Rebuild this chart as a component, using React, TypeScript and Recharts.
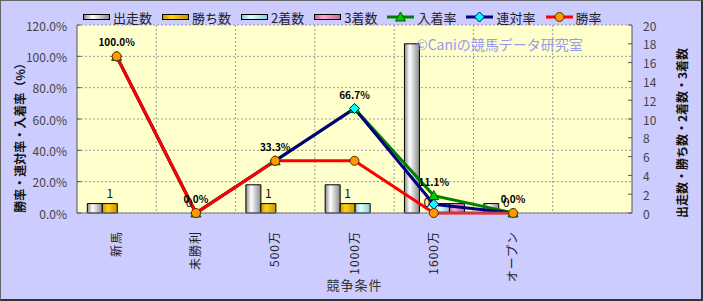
import {
  Bar,
  CartesianGrid,
  ComposedChart,
  LabelList,
  Line,
  Rectangle,
  XAxis,
  YAxis,
} from "recharts";

const categories = ["新馬", "未勝利", "500万", "1000万", "1600万", "オープン", ""];
const starts = [1, 0, 3, 3, 18, 1, null];
const wins = [1, 0, 1, 1, 0, 0, null];
const seconds = [0, 0, 0, 1, 1, 0, null];
const thirds = [0, 0, 0, 0, 1, 0, null];
const winRate = [100, 0, 33.3, 33.3, 0, 0, null];
const rentaiRate = [100, 0, 33.3, 66.7, 5.6, 0, null];
const placeRate = [100, 0, 33.3, 66.7, 11.1, 0, null];
const leftTicks = [0, 20, 40, 60, 80, 100, 120];
const rightTicks = [0, 2, 4, 6, 8, 10, 12, 14, 16, 18, 20];

const data = categories.map((cat, i) => ({
  cat,
  starts: starts[i],
  wins: wins[i],
  seconds: seconds[i],
  thirds: thirds[i],
  winRate: winRate[i],
  rentaiRate: rentaiRate[i],
  placeRate: placeRate[i],
}));

const FONT = '"Noto Sans CJK JP", "Noto Sans", sans-serif';

const LeftTick = (p: any) => (
  <g>
    <line x1={p.x + 10} x2={p.x + 14} y1={p.y} y2={p.y} stroke="#555" />
    <text x={p.x} y={p.y} textAnchor="end" dominantBaseline="central" fontSize={12} fill="#444" fontFamily={FONT}>
      {p.payload.value.toFixed(1)}%
    </text>
  </g>
);

const RightTick = (p: any) => (
  <g>
    <line x1={p.x - 11} x2={p.x - 15} y1={p.y} y2={p.y} stroke="#555" />
    <text x={p.x} y={p.y} textAnchor="start" dominantBaseline="central" fontSize={12} fill="#444" fontFamily={FONT}>
      {p.payload.value}
    </text>
  </g>
);

const CatTick = (p: any) => (
  <text
    transform={`translate(${p.x + 4},${p.y + 10}) rotate(-90)`}
    textAnchor="end"
    fontSize={12}
    letterSpacing={1}
    fill="#222"
    fontFamily={FONT}
  >
    {p.payload.value}
  </text>
);

// zero-height bars keep their slot (for the "0" labels) but draw nothing
const BarShape = (p: any) => (!p.value || p.height < 0.5 ? <g /> : <Rectangle {...p} />);

const TriDot = (p: any) =>
  p.cy == null ? (
    <g key={p.index} />
  ) : (
    <path
      key={p.index}
      d={`M${p.cx},${p.cy - 5}L${p.cx + 5},${p.cy + 4}L${p.cx - 5},${p.cy + 4}Z`}
      fill="#00cc00"
      stroke="#005500"
      strokeWidth={1}
    />
  );

const DiaDot = (p: any) =>
  p.cy == null ? (
    <g key={p.index} />
  ) : (
    <path
      key={p.index}
      d={`M${p.cx},${p.cy - 5}L${p.cx + 5},${p.cy}L${p.cx},${p.cy + 5}L${p.cx - 5},${p.cy}Z`}
      fill="#00ffff"
      stroke="#000080"
      strokeWidth={1}
    />
  );

const CircDot = (p: any) =>
  p.cy == null ? (
    <g key={p.index} />
  ) : (
    <circle key={p.index} cx={p.cx} cy={p.cy} r={4.5} fill="#ff9900" stroke="#553300" strokeWidth={1} />
  );

const legendItems = [
  { name: "出走数", type: "bar", fill: "url(#gStarts)" },
  { name: "勝ち数", type: "bar", fill: "url(#gWins)" },
  { name: "2着数", type: "bar", fill: "url(#gSec)" },
  { name: "3着数", type: "bar", fill: "url(#gThird)" },
  { name: "入着率", type: "tri", stroke: "#008000" },
  { name: "連対率", type: "dia", stroke: "#000080" },
  { name: "勝率", type: "circ", stroke: "#ff0000" },
];

function Grad({ id, edge, mid }: { id: string; edge: string; mid: string }) {
  return (
    <linearGradient id={id} x1="0" y1="0" x2="1" y2="0">
      <stop offset="0%" stopColor={edge} />
      <stop offset="35%" stopColor={mid} />
      <stop offset="100%" stopColor={edge} />
    </linearGradient>
  );
}

const Defs = () => (
  <defs>
    <Grad id="gStarts" edge="#8a8a8a" mid="#ffffff" />
    <Grad id="gWins" edge="#c89600" mid="#ffd21a" />
    <Grad id="gSec" edge="#8ccccc" mid="#e0ffff" />
    <Grad id="gThird" edge="#cc6699" mid="#ffaad4" />
  </defs>
);

function Legend() {
  return (
    <div style={{ position: "absolute", left: 83, top: 8, display: "flex", gap: 10, fontFamily: FONT, fontSize: 13, color: "#222" }}>
      {legendItems.map((it) => (
        <div key={it.name} style={{ display: "flex", alignItems: "center", gap: 3, height: 18 }}>
          <svg width={27} height={12}>
            <Defs />
            {it.type === "bar" ? (
              <rect x={0.5} y={3.5} width={26} height={5} fill={it.fill} stroke="#000" />
            ) : (
              <>
                <line x1={0} x2={27} y1={6} y2={6} stroke={it.stroke} strokeWidth={3} />
                {it.type === "tri" && <TriDot cx={13.5} cy={6} index={0} />}
                {it.type === "dia" && <DiaDot cx={13.5} cy={6} index={0} />}
                {it.type === "circ" && <CircDot cx={13.5} cy={6} index={0} />}
              </>
            )}
          </svg>
          <span>{it.name}</span>
        </div>
      ))}
    </div>
  );
}

export default function App() {
  return (
    <div style={{ position: "fixed", left: 0, top: 0, width: 703, height: 301, background: "#ccccff", fontFamily: FONT }}>
      <ComposedChart
        width={703}
        height={301}
        data={data}
        margin={{ top: 25, right: 0, bottom: 0, left: 0 }}
        barCategoryGap="13%"
        barGap={0}
      >
        <Defs />
        <CartesianGrid
          yAxisId="left"
          fill="#ffffcc"
          stroke="#9a9a9a"
          strokeDasharray="2 2"
          verticalCoordinatesGenerator={({ offset }: any) =>
            categories.slice(1).map((_, i) => offset.left + ((i + 1) * offset.width) / categories.length)
          }
        />
        <XAxis
          dataKey="cat"
          interval={0}
          height={88}
          tickLine={false}
          axisLine={{ stroke: "#808080" }}
          tick={<CatTick />}
          label={{ value: "競争条件", position: "insideBottom", offset: 11, fontSize: 13, fill: "#333", fontFamily: FONT, letterSpacing: 1 }}
        />
        <YAxis
          yAxisId="left"
          width={77}
          domain={[0, 120]}
          ticks={leftTicks}
          interval={0}
          tickSize={0}
          tickMargin={10}
          tickLine={false}
          axisLine={{ stroke: "#555" }}
          tick={<LeftTick />}
          label={{
            content: () => (
              <text transform="translate(19,135) rotate(-90)" textAnchor="middle" dominantBaseline="central" fontSize={12} fontWeight="bold" fill="#111" fontFamily={FONT}>
                勝率・連対率・入着率（%）
              </text>
            ),
          }}
        />
        <YAxis
          yAxisId="right"
          orientation="right"
          width={71}
          domain={[0, 20]}
          ticks={rightTicks}
          interval={0}
          tickSize={0}
          tickMargin={11}
          tickLine={false}
          axisLine={{ stroke: "#555" }}
          tick={<RightTick />}
          label={{
            content: () => (
              <text transform="translate(681,133) rotate(-90)" textAnchor="middle" dominantBaseline="central" fontSize={12} fontWeight="bold" fill="#111" fontFamily={FONT}>
                出走数・勝ち数・2着数・3着数
              </text>
            ),
          }}
        />
        <Bar yAxisId="right" dataKey="starts" fill="url(#gStarts)" stroke="#000" strokeWidth={1} shape={BarShape} isAnimationActive={false} />
        <Bar yAxisId="right" dataKey="wins" fill="url(#gWins)" stroke="#000" strokeWidth={1} minPointSize={0.1} shape={BarShape} isAnimationActive={false}>
          <LabelList dataKey="wins" position="top" offset={6} fontSize={12} fill="#111" fontFamily={FONT} />
        </Bar>
        <Bar yAxisId="right" dataKey="seconds" fill="url(#gSec)" stroke="#000" strokeWidth={1} shape={BarShape} isAnimationActive={false} />
        <Bar yAxisId="right" dataKey="thirds" fill="url(#gThird)" stroke="#000" strokeWidth={1} shape={BarShape} isAnimationActive={false} />
        <Line
          yAxisId="left"
          dataKey="placeRate"
          stroke="#008000"
          strokeWidth={3}
          dot={TriDot}
          activeDot={false}
          isAnimationActive={false}
        >
          <LabelList
            dataKey="placeRate"
            position="top"
            offset={10}
            formatter={(v: any) => (v == null ? "" : `${Number(v).toFixed(1)}%`)}
            fontSize={10}
            fontWeight="bold"
            fill="#000"
            fontFamily={FONT}
          />
        </Line>
        <Line
          yAxisId="left"
          dataKey="rentaiRate"
          stroke="#000080"
          strokeWidth={3}
          dot={DiaDot}
          activeDot={false}
          isAnimationActive={false}
        />
        <Line
          yAxisId="left"
          dataKey="winRate"
          stroke="#ff0000"
          strokeWidth={3}
          dot={CircDot}
          activeDot={false}
          isAnimationActive={false}
        />
      </ComposedChart>
      <Legend />
      <div style={{ position: "absolute", left: 416, top: 34, fontSize: 14, color: "#9999ee", fontFamily: FONT, whiteSpace: "nowrap" }}>
        ©Caniの競馬データ研究室
      </div>
      <div
        style={{
          position: "absolute",
          left: 0,
          top: 0,
          width: 703,
          height: 301,
          boxSizing: "border-box",
          borderTop: "1px solid #666",
          borderLeft: "1px solid #666",
          borderRight: "2px solid #333",
          borderBottom: "2px solid #333",
          pointerEvents: "none",
        }}
      />
    </div>
  );
}
